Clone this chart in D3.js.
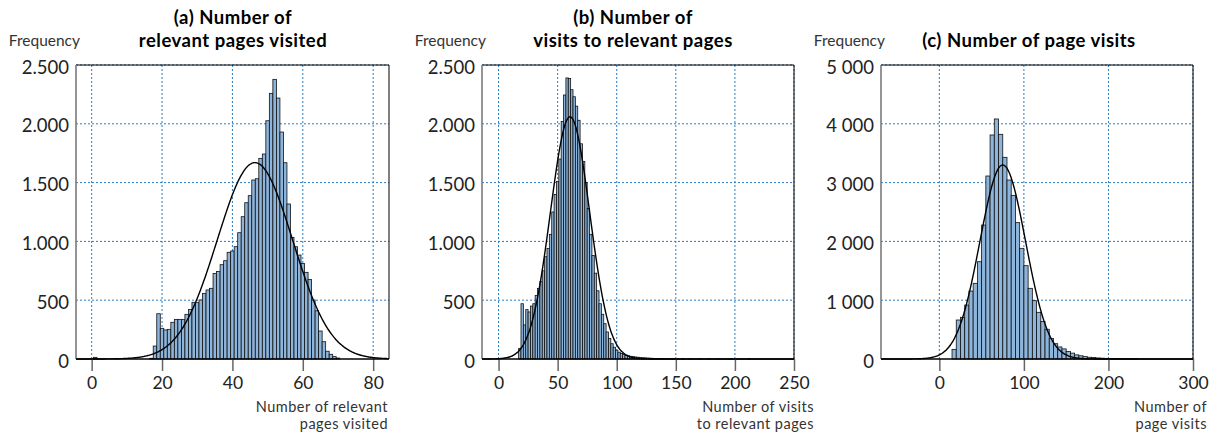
<!DOCTYPE html>
<html><head><meta charset="utf-8">
<script src="https://cdn.jsdelivr.net/npm/d3@7"></script>
<style>
body{margin:0;background:#fff;}
svg{display:block;font-family:Lato,"Open Sans",sans-serif;}
</style></head><body>
<svg id="chart" width="1222" height="437"></svg>
<script>
// (a) Number of relevant pages visited — bins of width 1, given by bin centre
const relPagesMid = [1, 17, 18, 19, 20, 21, 22, 23, 24, 25, 26, 27, 28, 29, 30, 31, 32, 33, 34, 35, 36, 37,
  38, 39, 40, 41, 42, 43, 44, 45, 46, 47, 48, 49, 50, 51, 52, 53, 54, 55, 56, 57, 58, 59, 60, 61, 62,
  63, 64, 65, 66, 67, 68, 69, 70];
const relPagesFreq = [14, 6, 110, 385, 261, 247, 252, 312, 337, 337, 337, 380, 422, 482, 479, 502, 558, 587, 601, 728, 745, 802,
  836, 907, 918, 955, 1074, 1210, 1329, 1389, 1522, 1533, 1706, 1743, 2026, 2259, 2378, 2219, 1930, 1669, 1318, 1034, 955, 884, 813, 737, 677,
  502, 410, 238, 147, 66, 40, 20, 8];
const relPagesFit = [46.4, 10.7, 1670];   // mean, sd, peak height of the normal curve

// (b) Number of visits to relevant pages — bins of width 2, given by bin centre
const relVisitsMid = [18, 20, 22, 24, 26, 28, 30, 32, 34, 36, 38, 40, 42, 44, 46, 48, 50, 52, 54, 56, 58, 60,
  62, 64, 66, 68, 70, 72, 74, 76, 78, 80, 82, 84, 86, 88, 90, 92, 94, 96, 98, 100, 102, 104, 106, 108, 110,
  112, 114, 116, 118, 120, 122, 124, 126, 128, 130, 132, 134, 136, 138, 140, 142, 144, 146, 148, 150,
  156, 162, 170, 178, 186, 196, 212];
const relVisitsFreq = [90, 470, 290, 420, 400, 450, 470, 540, 600, 660, 750, 870, 940, 1060, 1250, 1400, 1510, 1700, 2020, 2245, 2390, 2385,
  2290, 2230, 2150, 2030, 1830, 1680, 1500, 1280, 1060, 880, 730, 580, 470, 380, 300, 230, 175, 130, 100, 75, 58, 46, 38, 32, 27,
  23, 20, 17, 15, 13, 11, 10, 8, 7, 6, 5, 4, 4, 3, 3, 2, 2, 2, 1, 1,
  1, 1, 1, 1, 1, 1, 1];
const relVisitsFit = [60.5, 16.6, 2060];

// (c) Number of page visits — bins of width 5, given by lower edge
const pageVisitsLow = [15, 20, 25, 30, 35, 40, 45, 50, 55, 60, 65, 70, 75, 80, 85, 90, 95, 100, 105, 110, 115,
  120, 125, 130, 135, 140, 145, 150, 155, 160, 165, 170, 175, 180, 185, 190, 195, 200, 205, 210, 215, 220, 225, 230];
const pageVisitsFreq = [164, 663, 709, 918, 1156, 1287, 1655, 2279, 3112, 3810, 4082, 3821, 3430, 3044, 2783, 2319, 1882, 1587, 1202, 992, 794,
  640, 505, 351, 260, 205, 172, 128, 100, 70, 55, 40, 30, 24, 18, 14, 11, 9, 7, 6, 5, 4, 3, 2];
const pageVisitsFit = [75, 27, 3300];

// axis ticks
const xTicksA = [0, 20, 40, 60, 80];
const xTicksB = [0, 50, 100, 150, 200, 250];
const xTicksC = [0, 100, 200, 300];
const yTicksAB = [0, 500, 1000, 1500, 2000, 2500];
const yTicksC = [0, 1000, 2000, 3000, 4000, 5000];

// titles
const titleA = ["(a) Number of", "relevant pages visited"];
const titleB = ["(b) Number of", "visits to relevant pages"];
const titleC = ["(c) Number of page visits"];
const xTitleA = ["Number of relevant", "pages visited"];
const xTitleB = ["Number of visits", "to relevant pages"];
const xTitleC = ["Number of", "page visits"];
const yTitle = "Frequency";

const dotLocale = d3.formatLocale({decimal: ",", thousands: ".", grouping: [3], currency: ["", ""]});
const fmtDot = dotLocale.format(",");
const fmtSpace = v => d3.format(",")(v).replace(/,/g, " ");

const svg = d3.select("#chart");
const TOP = 65, BOTTOM = 359;
const GRID = "#2a7cc4";
const BAR_FILL = "#8db4da";

const panels = [
  {x0: 76, x1: 389, dom: [-4.45, 84.5], xt: xTicksA, yt: yTicksAB, fmt: fmtDot,
   bins: relPagesMid.map((m, i) => ({lo: m - 0.5, hi: m + 0.5, f: relPagesFreq[i]})),
   fit: relPagesFit, title: titleA, titleX: 233, xTitle: xTitleA, xTitleR: 388},
  {x0: 482, x1: 794, dom: [-14, 250], xt: xTicksB, yt: yTicksAB, fmt: fmtDot,
   bins: relVisitsMid.map((m, i) => ({lo: m - 1, hi: m + 1, f: relVisitsFreq[i]})),
   fit: relVisitsFit, title: titleB, titleX: 633, xTitle: xTitleB, xTitleR: 814},
  {x0: 881, x1: 1193, dom: [-69, 300], xt: xTicksC, yt: yTicksC, fmt: fmtSpace,
   bins: pageVisitsLow.map((l, i) => ({lo: l, hi: l + 5, f: pageVisitsFreq[i]})),
   fit: pageVisitsFit, title: titleC, titleX: 1029, xTitle: xTitleC, xTitleR: 1207}
];

panels.forEach(p => {
  const g = svg.append("g");
  const x = d3.scaleLinear().domain(p.dom).range([p.x0, p.x1]);
  const yMax = p.yt[p.yt.length - 1];
  const y = d3.scaleLinear().domain([0, yMax]).range([BOTTOM, TOP]);

  // dotted grid
  g.append("g").selectAll("line").data(p.yt.filter(v => v > 0)).join("line")
    .attr("x1", p.x0).attr("x2", p.x1).attr("y1", d => y(d)).attr("y2", d => y(d))
    .attr("stroke", GRID).attr("stroke-width", 1).attr("stroke-dasharray", "2,2");
  g.append("g").selectAll("line").data(p.xt).join("line")
    .attr("x1", d => x(d)).attr("x2", d => x(d)).attr("y1", TOP).attr("y2", BOTTOM)
    .attr("stroke", GRID).attr("stroke-width", 1).attr("stroke-dasharray", "2,2");

  // histogram bars
  g.append("g").selectAll("rect").data(p.bins).join("rect")
    .attr("x", d => x(d.lo)).attr("width", d => x(d.hi) - x(d.lo))
    .attr("y", d => y(d.f)).attr("height", d => BOTTOM - y(d.f))
    .attr("fill", BAR_FILL).attr("stroke", "#111").attr("stroke-width", 0.8);

  // fitted normal curve
  const [mu, sd, peak] = p.fit;
  const xs = d3.range(0, 401).map(i => p.dom[0] + (p.dom[1] - p.dom[0]) * i / 400);
  const line = d3.line().x(d => x(d)).y(d => y(peak * Math.exp(-((d - mu) ** 2) / (2 * sd * sd)))).curve(d3.curveBasis);
  g.append("path").datum(xs).attr("d", line).attr("fill", "none").attr("stroke", "#000").attr("stroke-width", 1.4);

  // frame
  g.append("line").attr("x1", p.x0).attr("x2", p.x1).attr("y1", TOP).attr("y2", TOP).attr("stroke", "#000").attr("stroke-width", 1);
  g.append("line").attr("x1", p.x1).attr("x2", p.x1).attr("y1", TOP).attr("y2", BOTTOM).attr("stroke", "#000").attr("stroke-width", 1);
  g.append("line").attr("x1", p.x0).attr("x2", p.x0).attr("y1", TOP).attr("y2", BOTTOM).attr("stroke", "#7a7a7a").attr("stroke-width", 1.6);

  // x axis
  const xAxis = d3.axisBottom(x).tickValues(p.xt).tickSize(12).tickPadding(6).tickFormat(d3.format("d"));
  const ax = g.append("g").attr("transform", `translate(0,${BOTTOM})`).call(xAxis);
  ax.select(".domain").remove();
  ax.selectAll(".tick line").attr("stroke", "#666").attr("stroke-width", 1.5);
  ax.selectAll(".tick text").attr("font-size", 17.5).attr("fill", "#222").attr("font-family", "Lato");
  g.append("line").attr("x1", p.x0).attr("x2", p.x1).attr("y1", BOTTOM).attr("y2", BOTTOM).attr("stroke", "#000").attr("stroke-width", 1.6);

  // y tick labels
  g.append("g").selectAll("text").data(p.yt).join("text")
    .attr("x", p.x0 - 7).attr("y", d => y(d) + 8.5).attr("text-anchor", "end")
    .attr("font-size", 18.5).attr("fill", "#222").text(d => p.fmt(d));

  // labels
  g.append("text").attr("x", p.x0 + 4).attr("y", 46).attr("text-anchor", "end")
    .attr("font-size", 15.5).attr("fill", "#333").text(yTitle);
  const tl = p.title.length;
  p.title.forEach((t, i) => {
    g.append("text").attr("x", p.titleX).attr("y", 46.5 - (tl - 1 - i) * 22.5).attr("text-anchor", "middle")
      .attr("font-size", 18.5).attr("font-weight", "bold").attr("letter-spacing", 0.5).attr("fill", "#000").text(t);
  });
  p.xTitle.forEach((t, i) => {
    g.append("text").attr("x", p.xTitleR).attr("y", 411.5 + i * 17.5).attr("text-anchor", "end")
      .attr("font-size", 14.5).attr("letter-spacing", 0.5).attr("fill", "#333").text(t);
  });
});
</script>
</body></html>
